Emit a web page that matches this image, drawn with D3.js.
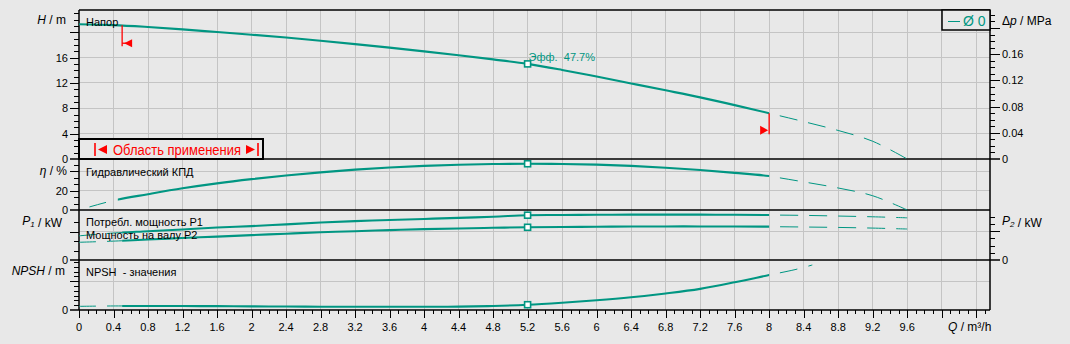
<!DOCTYPE html>
<html>
<head>
<meta charset="utf-8">
<script src="https://cdn.jsdelivr.net/npm/d3@7"></script>
<style>
  body { margin: 0; background: #e8e8e8; }
  svg { display: block; font-family: "Liberation Sans", Arial, sans-serif; }
  text { white-space: pre; }
</style>
</head>
<body>
<svg id="chart" width="1070" height="344"></svg>
<script>
// flow points, m3/h
const flow = [0, 0.4, 0.8, 1.2, 1.6, 2, 2.4, 2.8, 3.2, 3.6, 4, 4.4, 4.8, 5.2, 5.6, 6, 6.4, 6.8, 7.2, 7.6, 8, 8.4, 8.8, 9.2, 9.6];
const head = [21.25, 21.12, 20.82, 20.45, 20.02, 19.6, 19.16, 18.66, 18.12, 17.56, 16.97, 16.36, 15.71, 15.0, 14.05, 13.0, 11.92, 10.83, 9.72, 8.5, 7.22, 5.9, 4.5, 2.8, 0];
const eta = [0, 9.8, 16.3, 22.4, 27.5, 31.8, 35.5, 38.8, 41.6, 43.8, 45.5, 46.7, 47.4, 47.7, 47.5, 46.8, 45.5, 43.6, 41.2, 38.3, 35.0, 29.0, 22.7, 14.7, 0];
const p1 = [0.256, 0.286, 0.305, 0.324, 0.344, 0.359, 0.378, 0.397, 0.412, 0.424, 0.435, 0.447, 0.458, 0.475, 0.477, 0.479, 0.481, 0.481, 0.481, 0.479, 0.477, 0.473, 0.466, 0.458, 0.447];
const p2 = [0.246, 0.262, 0.285, 0.305, 0.325, 0.345, 0.365, 0.385, 0.40, 0.415, 0.428, 0.438, 0.447, 0.454, 0.458, 0.462, 0.465, 0.466, 0.466, 0.465, 0.463, 0.458, 0.452, 0.443, 0.43];
const npshFlow = [0, 0.4, 0.8, 1.2, 1.6, 2, 2.4, 2.8, 3.2, 3.6, 4, 4.4, 4.8, 5.2, 5.6, 6, 6.4, 6.8, 7.2, 7.6, 8, 8.3, 8.5];
const npsh = [0.38, 0.42, 0.42, 0.41, 0.40, 0.38, 0.36, 0.34, 0.34, 0.34, 0.34, 0.35, 0.42, 0.55, 0.76, 1.01, 1.32, 1.72, 2.2, 2.88, 3.64, 4.2, 4.68];

const dutyFlow = 5.2;
const dutyEff = "47.7%";
const limitFlow = [0.5, 8];
const limitHead = [21.1, 7.22];

const xTickLabels = [0, 0.4, 0.8, 1.2, 1.6, 2, 2.4, 2.8, 3.2, 3.6, 4, 4.4, 4.8, 5.2, 5.6, 6, 6.4, 6.8, 7.2, 7.6, 8, 8.4, 8.8, 9.2, 9.6];
const headTickLabels = [0, 4, 8, 12, 16];
const dpTickLabels = [0, 0.04, 0.08, 0.12, 0.16];
const etaTickLabels = [0, 20];

const teal = "#009682";
const red = "#ff0000";

const svg = d3.select("#chart");
const left = 79, right = 990;

const x = d3.scaleLinear().domain([0, 10.56]).range([left, right]);
const yH = d3.scaleLinear().domain([0, 23.5]).range([159, 10]);
const yDp = d3.scaleLinear().domain([0, 0.2275]).range([159, 10]);
const yEta = d3.scaleLinear().domain([0, 52.6]).range([210, 159]);
const yP1 = d3.scaleLinear().domain([0, 0.53]).range([260, 210]);
const yP2 = d3.scaleLinear().domain([0, 0.694]).range([260, 210]);
const yN = d3.scaleLinear().domain([0, 5.2]).range([310, 260]);

svg.append("rect").attr("width", 1070).attr("height", 344).attr("fill", "#e8e8e8");

// grid
const grid = svg.append("g").attr("stroke", "#c4c4c4").attr("stroke-width", 1).attr("shape-rendering", "crispEdges");
grid.selectAll("line.v").data(d3.range(0.4, 10.5, 0.4)).join("line")
  .attr("x1", d => x(d)).attr("x2", d => x(d)).attr("y1", 10).attr("y2", 310);
[[yH, [4, 8, 12, 16, 20]], [yEta, [20, 40]], [yP2, [0.4]], [yN, [3]]].forEach(([s, vals]) => {
  grid.selectAll(null).data(vals).join("line")
    .attr("x1", left).attr("x2", right).attr("y1", d => s(d)).attr("y2", d => s(d));
});

// clip regions
const defs = svg.append("defs");
function clip(id, q0, q1) {
  defs.append("clipPath").attr("id", id).append("rect")
    .attr("x", x(q0)).attr("width", x(q1) - x(q0)).attr("y", 0).attr("height", 344);
}
clip("c-head", 0, 8);
clip("c-main", 0.5, 8);
clip("c-main-eta", 0.45, 8);
clip("c-left", 0, 0.5);
clip("c-left-eta", 0, 0.45);

// panel borders / axes
const axes = svg.append("g").attr("stroke", "#000").attr("fill", "none");
axes.append("line").attr("x1", left).attr("x2", right).attr("y1", 10).attr("y2", 10).attr("stroke-width", 1.5);
[yH(0), yEta(0), yP1(0), yN(0)].forEach(y => {
  axes.append("line").attr("x1", 70).attr("x2", right).attr("y1", y).attr("y2", y).attr("stroke-width", 1.5);
});
axes.append("line").attr("x1", right).attr("x2", 1000).attr("y1", yH(0)).attr("y2", yH(0)).attr("stroke-width", 1.5);
axes.append("line").attr("x1", right).attr("x2", 1000).attr("y1", yP2(0)).attr("y2", yP2(0)).attr("stroke-width", 1.5);
axes.append("line").attr("x1", left).attr("x2", left).attr("y1", 10).attr("y2", 310).attr("stroke-width", 1.5);
axes.append("line").attr("x1", right).attr("x2", right).attr("y1", 10).attr("y2", 310).attr("stroke-width", 1.5);

function leftTicks(s, vals, isMajor) {
  axes.selectAll(null).data(vals).join("line")
    .attr("x1", d => isMajor(d) ? 70 : 74).attr("x2", left)
    .attr("y1", d => Math.round(s(d)) + 0.5).attr("y2", d => Math.round(s(d)) + 0.5);
}
function rightTicks(s, vals, isMajor) {
  axes.selectAll(null).data(vals).join("line")
    .attr("x1", right).attr("x2", d => isMajor(d) ? 1000 : 995)
    .attr("y1", d => Math.round(s(d)) + 0.5).attr("y2", d => Math.round(s(d)) + 0.5);
}
const near = (v, step) => Math.abs(v / step - Math.round(v / step)) < 1e-6;
leftTicks(yH, d3.range(1, 23.5, 1), d => near(d, 4));
leftTicks(yEta, d3.range(1, 8).map(i => i * 20 / 3), d => near(d, 20));
leftTicks(yP1, [0.1, 0.2, 0.3, 0.4], d => near(d, 0.3));
leftTicks(yN, d3.range(0.5, 5.2, 0.5), d => near(d, 3));
rightTicks(yDp, d3.range(0.01, 0.2275, 0.01), d => near(d, 0.04));
rightTicks(yP2, d3.range(0.1, 0.65, 0.1), d => near(d, 0.4));

// x ticks
axes.selectAll(null).data(d3.range(0, 106).map(i => i / 10)).join("line")
  .attr("x1", d => Math.round(x(d)) + 0.5).attr("x2", d => Math.round(x(d)) + 0.5)
  .attr("y1", 310).attr("y2", (d, i) => i % 4 === 0 ? 318 : 314);

// curves
const curves = svg.append("g").attr("fill", "none").attr("stroke", teal);
function pts(xs, ys) { return xs.map((q, i) => [q, ys[i]]); }
function drawCurve(data, y, opt) {
  const line = d3.line().x(d => x(d[0])).y(d => y(d[1])).curve(d3.curveCatmullRom.alpha(0.5));
  if (opt.leftDash) {
    curves.append("path").attr("d", line(data.filter(d => d[0] <= 0.8)))
      .attr("stroke-width", 1).attr("stroke-dasharray", opt.leftDash)
      .attr("clip-path", `url(#${opt.leftClip})`);
  }
  curves.append("path").attr("d", line(data)).attr("stroke-width", 2.1)
    .attr("clip-path", `url(#${opt.mainClip})`);
  curves.append("path").attr("d", line(data.filter(d => d[0] >= 8)))
    .attr("stroke-width", 1).attr("stroke-dasharray", "18 11").attr("stroke-dashoffset", 18);
  const duty = data.find(d => d[0] === dutyFlow);
  svg.append("rect").attr("x", x(duty[0]) - 3).attr("y", y(duty[1]) - 3)
    .attr("width", 6).attr("height", 6).attr("fill", "#fff").attr("stroke", teal).attr("stroke-width", 1.6);
}
drawCurve(pts(flow, head), yH, { mainClip: "c-head" });
drawCurve(pts(flow, eta), yEta, { mainClip: "c-main-eta", leftClip: "c-left-eta", leftDash: "0 11 17 11" });
drawCurve(pts(flow, p1), yP1, { mainClip: "c-main", leftClip: "c-left", leftDash: "17 11" });
drawCurve(pts(flow, p2), yP2, { mainClip: "c-main", leftClip: "c-left", leftDash: "17 11" });
drawCurve(pts(npshFlow, npsh), yN, { mainClip: "c-main", leftClip: "c-left", leftDash: "17 11" });

// efficiency label at duty point
svg.append("text").attr("x", x(dutyFlow) + 1).attr("y", yH(head[flow.indexOf(dutyFlow)]) - 3)
  .attr("font-size", 11).attr("fill", teal).text("Эфф.  " + dutyEff);

// operating limits
const lim = svg.append("g").attr("fill", red).attr("stroke", red);
limitFlow.forEach((q, i) => {
  const lx = x(q), top = yH(limitHead[i]), bottom = top + 21;
  lim.append("line").attr("x1", lx).attr("x2", lx).attr("y1", top).attr("y2", bottom).attr("stroke-width", 1.3);
  if (i === 0) {
    const cy = bottom - 3;
    lim.append("line").attr("x1", lx).attr("x2", lx + 4).attr("y1", cy).attr("y2", cy).attr("stroke-width", 1.3);
    lim.append("path").attr("stroke", "none").attr("d", `M${lx + 2},${cy} L${lx + 10},${cy - 4} L${lx + 10},${cy + 4} Z`);
  } else {
    const cy = bottom - 4;
    lim.append("path").attr("stroke", "none").attr("d", `M${lx - 1},${cy} L${lx - 9},${cy - 4.5} L${lx - 9},${cy + 4.5} Z`);
  }
});

// tick labels
const labels = svg.append("g").attr("font-size", 11).attr("fill", "#000");
labels.selectAll(null).data(xTickLabels).join("text")
  .attr("x", d => x(d)).attr("y", 331).attr("text-anchor", "middle").text(d => String(d));
function leftLabels(s, vals) {
  labels.selectAll(null).data(vals).join("text")
    .attr("x", 68).attr("y", d => s(d)).attr("dy", "0.36em").attr("text-anchor", "end").text(d => String(d));
}
leftLabels(yH, headTickLabels);
leftLabels(yEta, etaTickLabels);
leftLabels(yP1, [0]);
leftLabels(yN, [0]);
labels.selectAll(null).data(dpTickLabels).join("text")
  .attr("x", 1002).attr("y", d => yDp(d)).attr("dy", "0.36em").text(d => String(d));
labels.append("text").attr("x", 1002).attr("y", yP2(0)).attr("dy", "0.36em").text("0");

// axis titles
function title(xp, yp, anchor, parts) {
  const t = labels.append("text").attr("x", xp).attr("y", yp).attr("dy", "0.36em").attr("text-anchor", anchor).attr("font-size", 12);
  parts.forEach(([s, it, sub]) => {
    const sp = t.append("tspan").text(s);
    if (it) sp.attr("font-style", "italic");
    if (sub) sp.attr("font-size", 8).attr("dy", "0.25em");
  });
  return t;
}
title(66, 20, "end", [["H", true], [" / m"]]);
title(67, 171, "end", [["η", true], [" / %"]]);
title(62, 221, "end", [["P", true], ["1", true, true], [" / kW", false]]);
title(65, 271, "end", [["NPSH", true], [" / m"]]);
title(1002, 21, "start", [["Δ"], ["p", true], [" / MPa"]]);
title(1002, 221, "start", [["P", true], ["2", true, true], [" / kW", false]]);
title(948, 327, "start", [["Q", true], [" / m³/h"]]);

// curve names
[["Напор", 22], ["Гидравлический КПД", 172], ["Потребл. мощность P1", 222], ["Мощность на валу P2", 235], ["NPSH  - значения", 272]]
  .forEach(([s, yp]) => {
    labels.append("text").attr("x", 86).attr("y", yp).attr("dy", "0.36em").text(s);
  });

// legend box
svg.append("rect").attr("x", 942).attr("y", 10).attr("width", 48).attr("height", 20)
  .attr("fill", "#e8e8e8").attr("stroke", "#000").attr("stroke-width", 1.5);
svg.append("line").attr("x1", 948).attr("x2", 960).attr("y1", 21.5).attr("y2", 21.5)
  .attr("stroke", teal).attr("stroke-width", 1);
svg.append("text").attr("x", 963).attr("y", 26).attr("font-size", 14).attr("fill", teal).text("Ø 0");

// range box
const rb = svg.append("g");
rb.append("rect").attr("x", left).attr("y", 139).attr("width", 184).attr("height", 20)
  .attr("fill", "#e8e8e8").attr("stroke", "#000").attr("stroke-width", 2);
rb.append("line").attr("x1", 95).attr("x2", 95).attr("y1", 143).attr("y2", 156).attr("stroke", red).attr("stroke-width", 1.6);
rb.append("path").attr("fill", red).attr("d", "M98,149.5 L107,145 L107,154 Z");
rb.append("text").attr("x", 113).attr("y", 150).attr("dy", "0.36em").attr("font-size", 14)
  .attr("textLength", 128).attr("lengthAdjust", "spacingAndGlyphs").attr("fill", red).text("Область применения");
rb.append("path").attr("fill", red).attr("d", "M255,149.5 L246,145 L246,154 Z");
rb.append("line").attr("x1", 258).attr("x2", 258).attr("y1", 143).attr("y2", 156).attr("stroke", red).attr("stroke-width", 1.6);
</script>
</body>
</html>
